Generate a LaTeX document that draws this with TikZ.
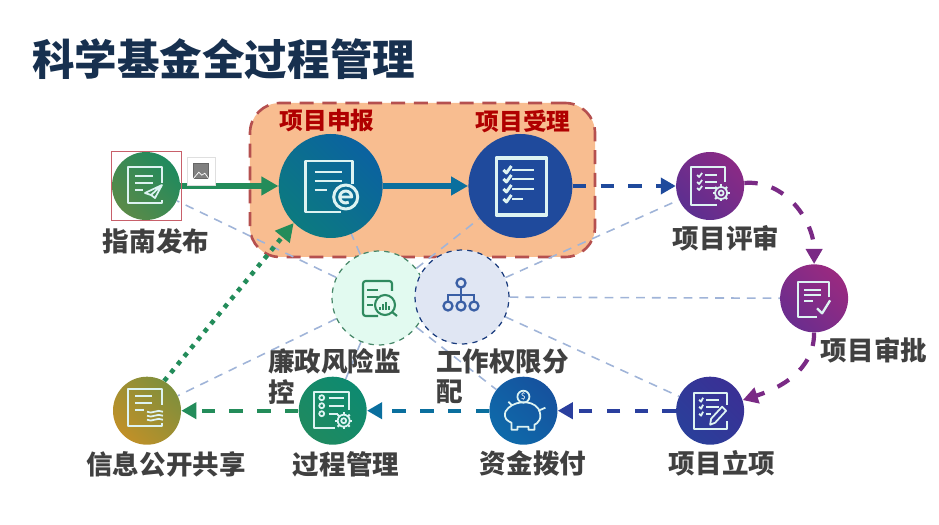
\documentclass[tikz,border=0pt]{standalone}
\usepackage{fontspec}
\setmainfont{Noto Sans CJK SC}
\usetikzlibrary{arrows.meta, positioning, calc, backgrounds}
\definecolor{panelfill}{HTML}{F8BD90}
\definecolor{paneledge}{HTML}{B5504F}
\definecolor{titlenavy}{HTML}{17304F}
\definecolor{labelgray}{HTML}{404040}
\definecolor{headred}{HTML}{B00000}
\definecolor{linkblue}{HTML}{A0B4D8}
\definecolor{flowgreen}{HTML}{238C5A}
\definecolor{flowteal}{HTML}{0A6F9E}
\definecolor{flowblue}{HTML}{1F4A9C}
\definecolor{flowpurple}{HTML}{7A2A85}
\definecolor{flowindigo}{HTML}{2A3F9E}
\definecolor{icongreen}{HTML}{2F8A5F}
\definecolor{iconblue}{HTML}{3A5FA5}
\definecolor{iconpale}{HTML}{DDF3F2}
\definecolor{guidelow}{HTML}{5A8A48}
\definecolor{guidehigh}{HTML}{1F8A5E}
\definecolor{applylow}{HTML}{0C7A80}
\definecolor{applyhigh}{HTML}{0B62A0}
\definecolor{reviewlow}{HTML}{5C2F90}
\definecolor{reviewhigh}{HTML}{8A2A85}
\definecolor{setuplow}{HTML}{2A3F9A}
\definecolor{setuphigh}{HTML}{3A3095}
\definecolor{approvelow}{HTML}{6A2D8E}
\definecolor{approvehigh}{HTML}{9A2A80}
\definecolor{fundlow}{HTML}{0E6AAA}
\definecolor{fundhigh}{HTML}{16529E}
\definecolor{processlow}{HTML}{1F8A60}
\definecolor{processhigh}{HTML}{0E8A70}
\definecolor{publishlow}{HTML}{C09028}
\definecolor{publishhigh}{HTML}{7F8F3C}
\definecolor{monitorfill}{HTML}{E2FAF0}
\definecolor{authorityfill}{HTML}{E0E6F3}
\definecolor{selpink}{HTML}{C8606A}
\tikzset{
    stage/.style={circle, minimum size=1.36cm, inner sep=0pt},
    bigstage/.style={circle, minimum size=2.08cm, inner sep=0pt},
    side/.style={circle, minimum size=1.88cm, inner sep=0pt, dashed, line width=0.7pt},
    tinted/.style 2 args={bottom color=#1, top color=#2, shading angle=-45},
    steplabel/.style={font=\fontsize{15.1}{17.6}\selectfont\bfseries, text=labelgray, inner sep=0pt},
    headlabel/.style={font=\fontsize{13.5}{16}\selectfont\bfseries, text=headred, inner sep=0pt},
    solidflow/.style={line width=3.2pt, -{Triangle[length=0.34cm, width=0.36cm]}},
    dashflow/.style={line width=2.4pt, dash pattern=on 7.6pt off 8.2pt, -{Triangle[length=0.3cm, width=0.32cm]}},
    dotflow/.style={line width=2.6pt, dash pattern=on 2.6pt off 3.4pt, -{Triangle[length=0.36cm, width=0.36cm]}},
    thinlink/.style={draw=linkblue, line width=0.9pt, dash pattern=on 5pt off 4pt},
    iconline/.style={draw=iconpale, line width=1pt, line join=round},
    thickicon/.style={iconline, line width=1.7pt},
    % small gear, shared by two icons
    gearmark/.pic={
        \draw[iconline] (0,0) circle (6) (0,0) circle (2.5);
        \foreach \a in {0,45,...,315} \draw[iconline, line width=1.2pt] (\a:6) -- (\a:8.5);
    },
    planedoc/.pic={
        \draw[iconline, line width=1.2pt] (16,-3) |- (-18,-19) |- (16,17) -- (16,14);
        \foreach \y in {-10,-3} \draw[iconline] (-11,\y) -- (7,\y);
        \draw[iconline] (-11,4) -- (-3,4);
        \draw[iconline] (16,-1) -- (-1,7) -- (5,9) -- (16,-1) -- (9,12) -- (5,9);
    },
    edoc/.pic={
        \draw[thickicon] (22,-2) |- (-25,-25) |- (10,26);
        \foreach \y in {-14,-5} \draw[thickicon] (-16,\y) -- (11,\y);
        \draw[thickicon] (-16,4) -- (-4,4);
        \draw[thickicon] (15,11) circle (12);
        \draw[thickicon] (9,11) -- (21,11) arc (0:-300:6);
    },
    checkdoc/.pic={
        \draw[thickicon, line width=2.1pt] (-24,-28) rectangle (26,29);
        \foreach \y in {-16,-7,3} {
            \draw[thickicon] (-17,\y) -- (-14,\y+3) -- (-9,\y-4);
            \draw[thickicon] (-8,\y) -- (14,\y);
        }
        \draw[thickicon] (-17,13) -- (-14,16) -- (-9,9);
        \draw[thickicon] (-8,13) -- (3,13);
    },
    geardoc/.pic={
        \draw[iconline, line width=1.2pt] (15,-4) |- (-19,-19) |- (7,19);
        \foreach \y in {-11,-4,2} {
            \draw[iconline] (-13,\y) -- (-11,\y+2) -- (-8,\y-2);
            \draw[iconline] (-5,\y) -- (7,\y);
        }
        \pic at (11,7) {gearmark};
    },
    tickdoc/.pic={
        \draw[iconline, line width=1.2pt] (15,-1) |- (-16,-16) |- (3,19);
        \foreach \y in {-8,-3} \draw[iconline] (-10,\y) -- (7,\y);
        \draw[iconline] (-10,3) -- (-1,3);
        \draw[iconline, line width=1.3pt] (3,10) -- (8,15) -- (16,2);
    },
    pendoc/.pic={
        \draw[iconline, line width=1.2pt] (17,-6) |- (-16,-18) |- (17,18) -- (17,10);
        \foreach \y in {-11,-4,3} \draw[iconline] (-11,\y) -- (-9,\y+2) -- (-7,\y-2);
        \foreach \y in {-11,-4} \draw[iconline] (-4,\y) -- (9,\y);
        \draw[iconline] (-4,3) -- (1,3);
        \draw[iconline] (0,14) -- (1,8) -- (12,-4) -- (16,0) -- (5,12) -- cycle;
    },
    piggy/.pic={
        \draw[iconline] (-18,1) .. controls (-12,-10) and (8,-12) .. (15,-2) .. controls (20,8) and (14,13) .. (11,14) -- (11,19) -- (5,19) -- (5,16) -- (-6,16) -- (-6,19) -- (-12,19) -- (-12,12) .. controls (-16,10) and (-20,8) .. (-18,1);
        \draw[iconline] (-15,-9) -- (-11,-5) (15,0) -- (22,-3);
        \draw[iconline] (0,-14) circle (6);
        \node[text=white, font=\fontsize{5}{5}\selectfont, inner sep=0pt] (coinmark) at (0,-14) {\$};
    },
    listdoc/.pic={
        \draw[iconline, line width=1.2pt] (16,-1) |- (-19,-19) |- (2,17);
        \foreach \y in {-13,-5,3} \draw[iconline] (-11,\y) circle (2.5);
        \foreach \y in {-13,-5} \draw[iconline] (-4,\y) -- (11,\y);
        \draw[iconline] (-4,3) -- (5,3);
        \pic at (11,10) {gearmark};
    },
    handdoc/.pic={
        \draw[iconline, line width=1.2pt] (15,-6) |- (-19,-22) |- (15,15) -- (15,12);
        \foreach \y in {-15,-8} \draw[iconline] (-12,\y) -- (5,\y);
        \draw[iconline] (-12,-1) -- (-3,-1);
        \foreach \y in {1,5,9} \draw[iconline] (0,\y) .. controls (5,\y+3) and (10,\y-3) .. (16,\y);
    },
    lensdoc/.pic={
        \draw[icongreen, line width=1.2pt, rounded corners=1.5pt] (13,-7) |- (-16,-17) |- (-1,18);
        \foreach \y in {-8,-1} \draw[icongreen, line width=1.2pt] (-12,\y) -- (-1,\y);
        \draw[icongreen, line width=1.2pt] (-12,7) -- (-6,7);
        \draw[icongreen, line width=1.2pt] (6,7) circle (10) (13,14) -- (18,18);
        \foreach \x/\h in {1/3,4/6,7/8,10/4} \draw[icongreen, line width=0.9pt] (\x,12) -- (\x,12-\h);
    },
    orgchart/.pic={
        \draw[iconblue, line width=1.3pt] (-1,-14) circle (4.5) (-14,9) circle (4.5) (-1,9) circle (4.5) (12,9) circle (4.5);
        \draw[iconblue, line width=1.3pt] (-1,-9.5) -- (-1,4.5) (-14,4.5) |- (12,-2) -- (12,4.5);
    },
}
\begin{document}
\begin{tikzpicture}[x=0.2mm, y=-0.2mm]
    \useasboundingbox (0,0) rectangle (939,525);

    \node[anchor=west, font=\fontsize{24.2}{28}\selectfont\bfseries, text=titlenavy, inner sep=0pt] (title) at (32,59) {科学基金全过程管理};

    % process ring
    \node[stage, tinted={guidelow}{guidehigh}] (guide) at (146,186) {};
    \node[bigstage, tinted={applylow}{applyhigh}, right=1.96cm of guide] (apply) {};
    \node[bigstage, fill=flowblue, right=1.7cm of apply] (accept) {};
    \node[stage, tinted={reviewlow}{reviewhigh}, right=2.06cm of accept] (review) {};
    \node[stage, tinted={setuplow}{setuphigh}, below=3.12cm of review] (setup) {};
    \node[stage, tinted={approvelow}{approvehigh}] (approve) at ($(review)!0.5!(setup)+(104,0)$) {};
    \node[stage, tinted={fundlow}{fundhigh}, left=2.36cm of setup] (fund) {};
    \node[stage, tinted={processlow}{processhigh}, left=2.44cm of fund] (process) {};
    \node[stage, tinted={publishlow}{publishhigh}, left=2.34cm of process] (publish) {};

    % the two side checks
    \node[side, draw=icongreen!70!gray, fill=monitorfill] (monitor) at (379,298) {};
    \node[side, draw=flowblue!80!black, fill=authorityfill] (authority) at (462,297) {};

    \begin{scope}[on background layer]
        \node[draw=paneledge, fill=panelfill, line width=1.5pt, dash pattern=on 8pt off 5pt, rounded corners=0.6cm, minimum width=6.9cm, minimum height=3.08cm] (panel) at (422.5,180) {};
        \foreach \t in {guide, apply, accept, publish, process, fund}
            \draw[thinlink] (monitor) -- (\t);
        \foreach \t in {review, approve, setup}
            \draw[thinlink] (authority) -- (\t);
    \end{scope}

    % icons
    \pic at (guide) {planedoc};
    \pic at (apply) {edoc};
    \pic at (accept) {checkdoc};
    \pic at (review) {geardoc};
    \pic at (approve) {tickdoc};
    \pic at (setup) {pendoc};
    \pic at (fund) {piggy};
    \pic at (process) {listdoc};
    \pic at (publish) {handdoc};
    \pic at (monitor) {lensdoc};
    \pic at (authority) {orgchart};

    % flow
    \draw[solidflow, flowgreen] (guide) -- (apply);
    \draw[solidflow, flowteal] (apply) -- (accept);
    \draw[dashflow, flowblue] (accept) -- (review);
    \draw[dashflow, flowpurple] (review) to[out=5, in=90] (approve);
    \draw[dashflow, flowpurple] (approve) to[out=-90, in=18] (setup);
    \draw[dashflow, flowindigo] (setup) -- (fund);
    \draw[dashflow, flowteal] (fund) -- (process);
    \draw[dashflow, flowgreen] (process) -- (publish);
    \draw[dotflow, flowgreen] (publish.60) -- (apply.-135);

    % selection marks
    \node[draw=selpink, line width=0.5pt, minimum width=1.4cm, minimum height=1.38cm, inner sep=0pt] (selbox) at (guide) {};
    \node[draw=gray!25, fill=white, minimum size=0.56cm, inner sep=0pt] (imgtag) at (201,171) {};
    \node[draw=gray!80!black, fill=gray, line width=0.8pt, minimum size=0.3cm, inner sep=0pt] (imgmark) at (imgtag) {};
    \draw[white, line width=0.4pt] (imgmark.south west) -- ++(6,-7) -- ++(3,3) -- ++(3,-2) -- (imgmark.south east);

    % labels
    \node[steplabel] (guidetxt) at (156,241) {指南发布};
    \node[headlabel] (applytxt) at (327,121) {项目申报};
    \node[headlabel] (accepttxt) at (523,121) {项目受理};
    \node[steplabel] (reviewtxt) at (726,238) {项目评审};
    \node[steplabel] (approvetxt) at (874,350) {项目审批};
    \node[steplabel] (setuptxt) at (722,463) {项目立项};
    \node[steplabel] (fundtxt) at (533,463) {资金拨付};
    \node[steplabel] (processtxt) at (346,464) {过程管理};
    \node[steplabel] (publishtxt) at (166,464) {信息公开共享};
    \node[steplabel, anchor=north west, align=left] (monitortxt) at (268,348) {廉政风险监\\控};
    \node[steplabel, anchor=north west, align=left] (authoritytxt) at (436,348) {工作权限分\\配};
\end{tikzpicture}
\end{document}
